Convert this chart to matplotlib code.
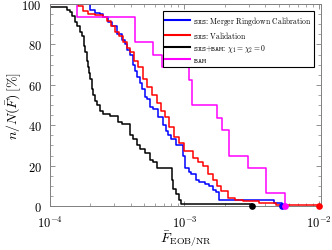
import numpy as np
import matplotlib
matplotlib.use("Agg")
import matplotlib.pyplot as plt
from matplotlib.ticker import AutoMinorLocator

plt.rcParams['font.family'] = 'serif'
plt.rcParams['font.serif'] = ['cmr10']
plt.rcParams['mathtext.fontset'] = 'cm'
plt.rcParams['axes.formatter.use_mathtext'] = True

# SXS: Merger Ringdown Calibration
f_cal = [1e-4, 1.984e-4, 2.161e-4, 2.354e-4, 2.478e-4, 2.700e-4, 2.891e-4, 3.149e-4,
         3.431e-4, 3.612e-4, 3.738e-4, 3.934e-4, 4.141e-4, 4.285e-4, 4.435e-4, 4.669e-4,
         4.831e-4, 5.086e-4, 5.264e-4, 5.541e-4, 5.833e-4, 6.354e-4, 6.921e-4, 7.287e-4,
         7.539e-4, 7.936e-4, 8.647e-4, 9.745e-4, 1.0086e-3, 1.080e-3, 1.118e-3, 1.218e-3,
         1.282e-3, 1.421e-3, 1.521e-3, 1.629e-3, 1.715e-3, 1.805e-3, 4.628e-3, 5.309e-3]
p_cal = [100, 97, 95.5, 95, 93.5, 91, 89, 85,
         82, 80, 77, 75, 70, 67, 64, 61,
         58, 54, 53, 49, 48, 44, 40, 37,
         35, 33, 30, 25, 19, 17, 16, 13,
         12, 11, 10, 8, 7, 3, 1.5, 0]

# SXS: Validation
f_val = [1e-4, 1.615e-4, 1.759e-4, 1.917e-4, 2.161e-4, 2.478e-4, 2.654e-4, 2.842e-4,
         3.043e-4, 3.260e-4, 3.490e-4, 3.738e-4, 3.934e-4, 4.212e-4, 4.511e-4, 4.915e-4,
         5.264e-4, 5.734e-4, 6.246e-4, 6.689e-4, 7.161e-4, 7.669e-4, 8.354e-4, 9.100e-4,
         9.915e-4, 1.157e-3, 1.260e-3, 1.373e-3, 1.495e-3, 1.629e-3, 1.744e-3, 1.868e-3,
         2.106e-3, 2.374e-3, 2.722e-3, 3.580e-3, 4.789e-3, 1e-2]
p_val = [100, 99, 96.5, 95, 94.5, 93.5, 91.5, 89,
         86, 84, 81, 78, 76, 72, 69, 63,
         59, 55, 51, 47, 44, 39, 34, 31,
         27, 24, 22, 20, 16, 13, 10, 7.5,
         4, 3, 2.5, 1.5, 0.6, 0]

# SXS+BAM non-spinning
f_ns = [1e-4, 1.338e-4, 1.408e-4, 1.457e-4, 1.534e-4, 1.588e-4, 1.671e-4, 1.729e-4,
        1.790e-4, 1.821e-4, 1.884e-4, 1.917e-4, 1.950e-4, 1.984e-4, 2.053e-4, 2.088e-4,
        2.161e-4, 2.236e-4, 2.354e-4, 2.478e-4, 2.794e-4, 3.204e-4, 3.431e-4, 3.934e-4,
        4.141e-4, 4.435e-4, 4.669e-4, 5.086e-4, 5.541e-4, 5.833e-4, 6.246e-4, 8.074e-4,
        8.213e-4, 8.647e-4, 9.100e-4, 9.419e-4, 3.176e-3]
p_ns = [98.5, 97, 96, 94, 91, 89, 86, 84,
        79, 76, 72, 69, 66, 63, 58, 55,
        52, 50, 47, 45.5, 44.5, 41.5, 40.5, 35,
        33, 30, 28, 26, 23, 22, 19, 13,
        8.5, 6, 3, 1, 0]

# BAM
f_bam = [1e-4, 1.588e-4, 4.285e-4, 5.833e-4, 6.804e-4, 1.080e-3, 1.137e-3,
         1.744e-3, 1.900e-3, 2.142e-3, 2.966e-3, 4.036e-3, 5.587e-3]
p_bam = [100, 93.75, 81.25, 75, 68.75, 62.5, 50,
         43.75, 37.5, 25, 18.75, 6.25, 0]

labels = [r"$\mathtt{SXS}$: Merger Ringdown Calibration",
          r"$\mathtt{SXS}$: Validation",
          r"$\mathtt{SXS{+}BAM}$: $\chi_1 = \chi_2 = 0$",
          r"$\mathtt{BAM}$"]
colors = ['#0000ff', '#ff0000', '#000000', '#ff00ff']
data = [(f_cal, p_cal), (f_val, p_val), (f_ns, p_ns), (f_bam, p_bam)]

fig = plt.figure(figsize=(3.32, 2.51), dpi=100)
ax = fig.add_axes([50 / 332, 1 - 207 / 251, 271 / 332, 202 / 251])

for (f, p), c, lab in zip(data, colors, labels):
    ax.step(f, p, where='post', color=c, lw=1.1, label=lab)
    # end point marker sits on the bottom spine
    ax.plot(f[-1], p[-1], 'o', color=c, ms=3.8, clip_on=False, zorder=5)

ax.set_xscale('log')
ax.set_xlim(1e-4, 1.035e-2)
ax.set_ylim(0, 100)
ax.set_yticks([0, 20, 40, 60, 80, 100])
ax.yaxis.set_minor_locator(AutoMinorLocator(4))

for s in ax.spines.values():
    s.set_color('#808080')
    s.set_linewidth(0.7)
ax.tick_params(which='both', direction='in', top=True, right=True,
               color='#808080', labelsize=9)
ax.tick_params(which='major', length=3.5, width=0.6)
ax.tick_params(which='minor', length=2, width=0.5)
ax.tick_params(axis='y', pad=6)
ax.tick_params(axis='x', pad=6)

ax.set_xlabel(r"$\bar{F}_{\rm EOB/NR}$", fontsize=10)
ax.set_ylabel(r"$n/N(\bar{F})\,[\%]$", fontsize=10)
ax.xaxis.set_label_coords(0.5, -0.11)
ax.yaxis.set_label_coords(-0.1, 0.5)

leg = ax.legend(loc='upper right', bbox_to_anchor=(0.974, 0.965), borderaxespad=0,
                fontsize=5.5, fancybox=False, framealpha=1, edgecolor='black',
                handlelength=3.2, labelspacing=0.25, borderpad=0.35, handletextpad=0.4)
leg.get_frame().set_linewidth(0.8)
for h in leg.get_lines():
    h.set_linewidth(1.5)

fig.savefig('out.png', dpi=100)
